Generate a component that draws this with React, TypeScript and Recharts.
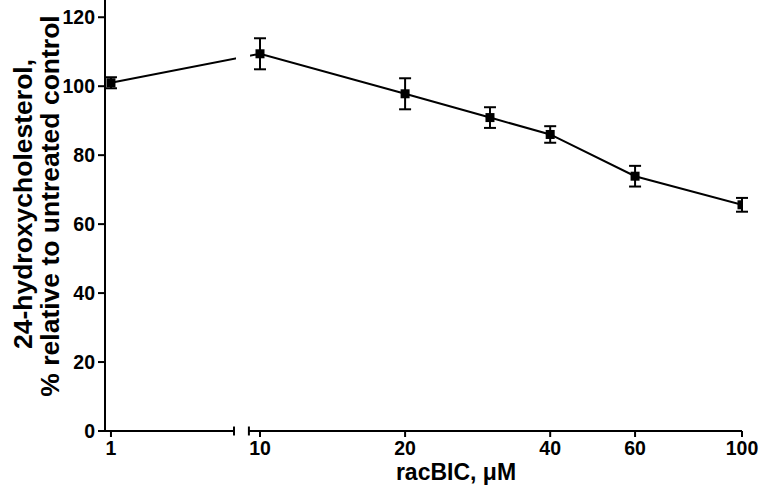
import React from 'react';
import { LineChart, Line, XAxis, YAxis, ErrorBar, ReferenceLine, ReferenceArea } from 'recharts';

// racBIC concentration (µM)
const concentrations = [1, 10, 20, 30, 40, 60, 100];
// 24-hydroxycholesterol, % of untreated control
const meanPercent = [101.0, 109.4, 97.8, 90.9, 86.0, 73.9, 65.6];
const semPercent = [1.6, 4.5, 4.5, 3.0, 2.4, 3.0, 2.0];
const xTicks = [1, 10, 20, 40, 60, 100];
const yTicks = [0, 20, 40, 60, 80, 100, 120];

const data = concentrations.map((c, i) => ({ conc: c, mean: meanPercent[i], sem: semPercent[i] }));

const FONT = '"Liberation Sans", Arial, sans-serif';
const BREAK_AT = 10;
const LEFT_FRACTION = 155 / 637;
const X_DOMAIN = [0.64, 100];
const BREAK_LEFT = 8.43;
const BREAK_RIGHT = 9.33;

// Broken axis scale: linear segment below the break, log10 segment from 10 to 100
function brokenScale(domain: number[] = [0, 1], range: number[] = [0, 1]): any {
  const s: any = (v: number) => {
    const d0 = domain[0];
    const d1 = domain[domain.length - 1];
    const r0 = range[0];
    const r1 = range[range.length - 1];
    let u: number;
    if (v <= BREAK_AT) u = (LEFT_FRACTION * (v - d0)) / (BREAK_AT - d0);
    else
      u =
        LEFT_FRACTION +
        ((1 - LEFT_FRACTION) * (Math.log(v) - Math.log(BREAK_AT))) / (Math.log(d1) - Math.log(BREAK_AT));
    return r0 + u * (r1 - r0);
  };
  s.domain = (d?: any[]) => {
    if (d === undefined) return domain.slice();
    domain = [Number(d[0]), Number(d[d.length - 1])];
    return s;
  };
  s.range = (r?: any[]) => {
    if (r === undefined) return range.slice();
    range = [Number(r[0]), Number(r[r.length - 1])];
    return s;
  };
  s.copy = () => brokenScale(domain.slice(), range.slice());
  s.ticks = () => xTicks.slice();
  s.tickFormat = () => (v: number) => String(v);
  return s;
}

const xScale = brokenScale(X_DOMAIN, [0, 1]);

const tickStyle = { fontFamily: FONT, fontWeight: 700, fontSize: 19.5, fill: '#000' };

const SquareDot = (p: any) => {
  if (p.cx == null || p.cy == null) return <g key={`d${p.index}`} />;
  return <rect key={`d${p.index}`} x={p.cx - 4.5} y={p.cy - 4.5} width={9} height={9} fill="#000" />;
};

const YTitle = () => (
  <g>
    <text
      transform="translate(32,204) rotate(-90)"
      textAnchor="middle"
      fontFamily={FONT}
      fontWeight={700}
      fontSize={26.5}
      fill="#000"
    >
      24-hydroxycholesterol,
    </text>
    <text
      transform="translate(59,206) rotate(-90)"
      textAnchor="middle"
      fontFamily={FONT}
      fontWeight={700}
      fontSize={26.5}
      fill="#000"
    >
      % relative to untreated control
    </text>
  </g>
);

const XTitle = () => (
  <text x={456} y={480} textAnchor="middle" fontFamily={FONT} fontWeight={700} fontSize={23} fill="#000">
    racBIC, μM
  </text>
);

const axisStroke = { stroke: '#000', strokeWidth: 2 };

export default function App() {
  return (
    <div style={{ position: 'absolute', left: 0, top: 0, background: '#fff' }}>
      <LineChart width={760} height={486} data={data} margin={{ top: 0, right: 18, bottom: 0, left: 45 }}>
        <XAxis
          dataKey="conc"
          type="number"
          scale={xScale}
          domain={X_DOMAIN}
          ticks={xTicks}
          interval={0}
          allowDataOverflow
          axisLine={false}
          tickLine={axisStroke}
          tickSize={6}
          tickMargin={4}
          height={55}
          tick={tickStyle}
          label={{ content: XTitle }}
        />
        <YAxis
          type="number"
          domain={[0, 125]}
          ticks={yTicks}
          interval={0}
          allowDataOverflow
          axisLine={axisStroke}
          tickLine={axisStroke}
          tickSize={7}
          tickMargin={3}
          width={60}
          tick={tickStyle}
          label={{ content: YTitle }}
        />
        <ReferenceLine
          segment={[{ x: X_DOMAIN[0], y: 0 }, { x: BREAK_LEFT, y: 0 }]}
          stroke="#000"
          strokeWidth={2}
          ifOverflow="visible"
        />
        <ReferenceLine
          segment={[{ x: BREAK_RIGHT, y: 0 }, { x: X_DOMAIN[1], y: 0 }]}
          stroke="#000"
          strokeWidth={2}
          ifOverflow="visible"
        />
        <ReferenceLine
          segment={[{ x: BREAK_LEFT, y: -1.3 }, { x: BREAK_LEFT, y: 1.3 }]}
          stroke="#000"
          strokeWidth={2}
          ifOverflow="visible"
        />
        <ReferenceLine
          segment={[{ x: BREAK_RIGHT, y: -1.3 }, { x: BREAK_RIGHT, y: 1.3 }]}
          stroke="#000"
          strokeWidth={2}
          ifOverflow="visible"
        />
        <Line
          dataKey="mean"
          stroke="#000"
          strokeWidth={2}
          dot={SquareDot}
          activeDot={false}
          isAnimationActive={false}
        >
          <ErrorBar dataKey="sem" direction="y" width={6} stroke="#000" strokeWidth={2} />
        </Line>
        <ReferenceArea
          x1={8.55}
          x2={9.4}
          y1={100}
          y2={118}
          fill="#fff"
          fillOpacity={1}
          stroke="none"
          ifOverflow="visible"
          zIndex={1500}
        />
      </LineChart>
    </div>
  );
}
